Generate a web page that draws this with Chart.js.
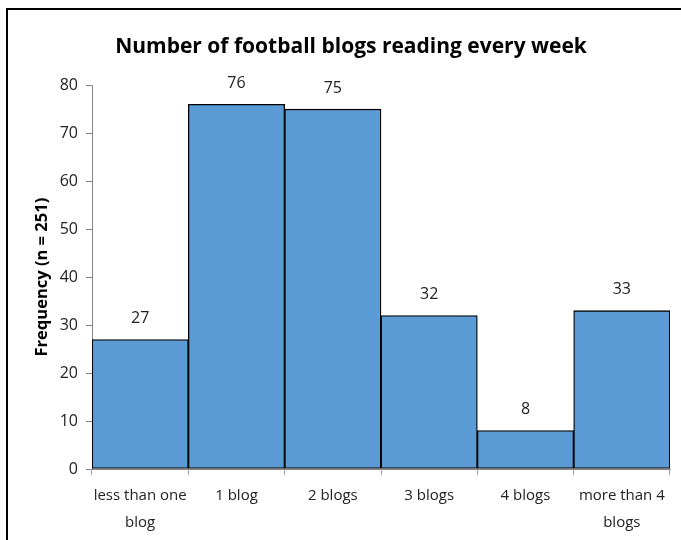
<!DOCTYPE html>
<html>
<head>
<meta charset="utf-8">
<script src="https://cdn.jsdelivr.net/npm/chart.js@4/dist/chart.umd.min.js"></script>
<style>
  html, body { margin: 0; padding: 0; background: #fff; }
  #wrap { width: 681px; height: 540px; position: relative; }
</style>
</head>
<body>
<div id="wrap"><canvas id="chart"></canvas></div>
<script>
// weekly football blog reading, counts per group
const categories = [['less than one', 'blog'], '1 blog', '2 blogs', '3 blogs', '4 blogs', ['more than 4', 'blogs']];
const frequency = [27, 76, 75, 32, 8, 33];
const yTicks = { min: 0, max: 80, step: 10 };

const FONT = '"Open Sans", sans-serif';

// outer frame line around the figure
const framePlugin = {
  id: 'frame',
  beforeDraw(chart) {
    const ctx = chart.ctx;
    ctx.save();
    ctx.strokeStyle = '#000';
    ctx.lineWidth = 2;
    ctx.strokeRect(7, 9, 720, 600);
    ctx.restore();
  }
};

// value printed above each bar
const valueLabels = {
  id: 'valueLabels',
  afterDatasetsDraw(chart) {
    const ctx = chart.ctx;
    const meta = chart.getDatasetMeta(0);
    ctx.save();
    ctx.font = '16px ' + FONT;
    ctx.fillStyle = '#222';
    ctx.textAlign = 'center';
    ctx.textBaseline = 'middle';
    meta.data.forEach((bar, i) => {
      ctx.fillText(String(frequency[i]), bar.x, bar.y - 21);
    });
    ctx.restore();
  }
};

new Chart(document.getElementById('chart'), {
  type: 'bar',
  data: {
    labels: categories,
    datasets: [{
      data: frequency,
      backgroundColor: '#5b9bd5',
      borderColor: '#000',
      borderWidth: 1.3,
      borderSkipped: false,
      barPercentage: 1,
      categoryPercentage: 1
    }]
  },
  options: {
    responsive: true,
    maintainAspectRatio: false,
    animation: false,
    layout: { padding: { left: 32, right: 11, top: 0, bottom: 5 } },
    plugins: {
      legend: { display: false },
      tooltip: { enabled: false },
      title: {
        display: true,
        text: 'Number of football blogs reading every week',
        color: '#000',
        font: { family: FONT, size: 21, weight: 'bold' },
        padding: { top: 34, bottom: 26 }
      }
    },
    scales: {
      x: {
        grid: { display: true, drawOnChartArea: false, offset: true, tickLength: 6, color: '#a6a6a6' },
        border: { color: '#868686', width: 1 },
        ticks: { color: '#222', font: { family: FONT, size: 15, lineHeight: 1.75 }, padding: 8, maxRotation: 0, autoSkip: false },
        afterFit(s) { s.height = 66; }
      },
      y: {
        min: yTicks.min,
        max: yTicks.max,
        ticks: { stepSize: yTicks.step, color: '#222', font: { family: FONT, size: 16 }, padding: 8 },
        grid: { drawOnChartArea: false, tickLength: 6, color: '#868686' },
        border: { color: '#868686', width: 1 },
        title: {
          display: true,
          text: 'Frequency (n = 251)',
          color: '#000',
          font: { family: FONT, size: 16.5, weight: 'bold' },
          padding: { top: 0, bottom: 10 }
        },
        afterFit(s) { s.width = 60; }
      }
    }
  },
  plugins: [framePlugin, valueLabels]
});
</script>
</body>
</html>
